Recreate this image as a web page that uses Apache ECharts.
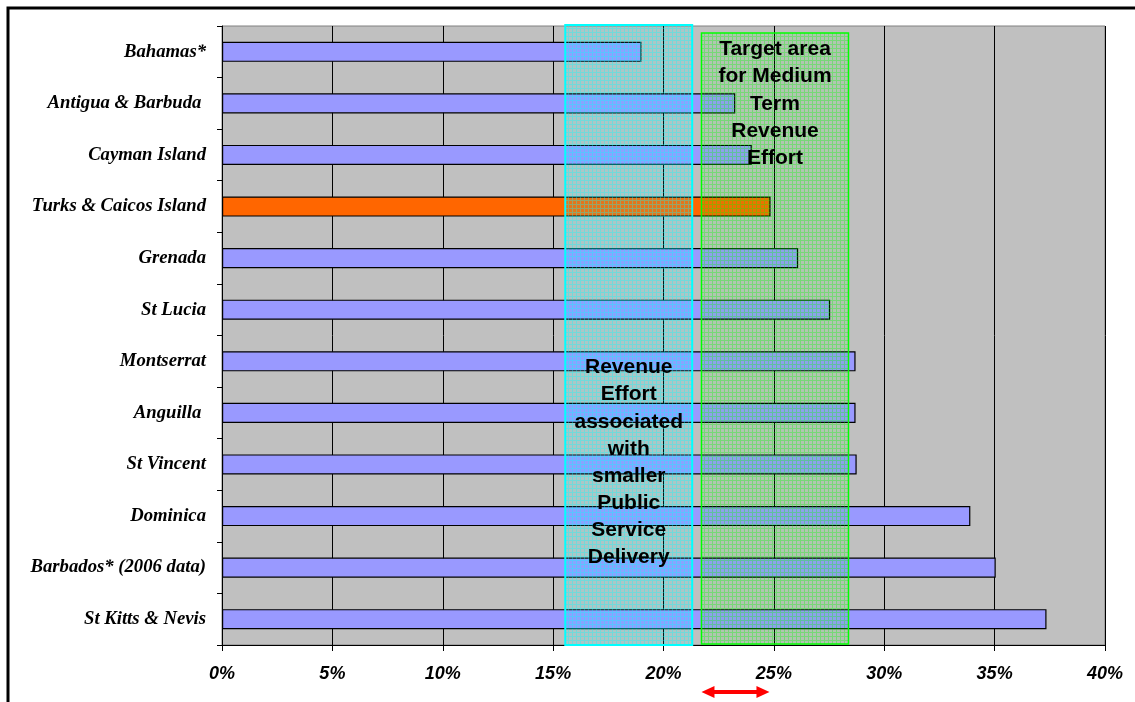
<!DOCTYPE html>
<html>
<head>
<meta charset="utf-8">
<script src="https://cdn.jsdelivr.net/npm/echarts@6/dist/echarts.min.js"></script>
<style>
  html, body { margin: 0; padding: 0; background: #ffffff; }
  #chart { width: 1135px; height: 702px; }
</style>
</head>
<body>
<div id="chart"></div>
<script>
// Revenue effort (% of GDP) by country
const countries = [
  'Bahamas*', 'Antigua & Barbuda ', 'Cayman Island', 'Turks & Caicos Island',
  'Grenada', 'St Lucia', 'Montserrat', 'Anguilla ', 'St Vincent',
  'Dominica', 'Barbados* (2006 data)', 'St Kitts & Nevis'
];
const revenueShare = [19.0, 23.25, 24.0, 24.85, 26.1, 27.55, 28.7, 28.7, 28.75, 33.9, 35.05, 37.35];
const highlighted = 'Turks & Caicos Island';

// Shaded bands (percent of GDP)
const smallerServiceBand = [15.55, 21.3];
const targetBand = [21.72, 28.38];
// Gap marked with the red double arrow
const gapRange = [21.72, 24.8];

const xTicks = { min: 0, max: 40, interval: 5 };

const bandTextLeft = 'Revenue\nEffort\nassociated\nwith\nsmaller\nPublic\nService\nDelivery';
const bandTextRight = 'Target area\nfor Medium\nTerm\nRevenue\nEffort';

function gridPattern(fill, line) {
  const c = document.createElement('canvas');
  c.width = 4; c.height = 4;
  const ctx = c.getContext('2d');
  ctx.fillStyle = fill;
  ctx.fillRect(0, 0, 4, 4);
  ctx.fillStyle = line;
  ctx.fillRect(0, 0, 4, 1);
  ctx.fillRect(0, 1, 1, 3);
  return c;
}

const chart = echarts.init(document.getElementById('chart'), null, { renderer: 'canvas' });

const barData = revenueShare.map((v, i) => ({
  value: v,
  itemStyle: { color: countries[i] === highlighted ? '#FF6600' : '#9999FF' }
}));

chart.setOption({
  animation: false,
  backgroundColor: '#ffffff',
  grid: {
    left: 222, right: 30, top: 26, bottom: 57,
    show: true, backgroundColor: '#C0C0C0', borderColor: '#808080', borderWidth: 1
  },
  xAxis: {
    type: 'value',
    min: xTicks.min, max: xTicks.max, interval: xTicks.interval,
    axisLine: { show: true, lineStyle: { color: '#000', width: 1 } },
    axisTick: { show: true, length: 6, lineStyle: { color: '#000' } },
    splitLine: { show: true, lineStyle: { color: '#000', width: 1 } },
    axisLabel: {
      formatter: v => v + '%',
      margin: 20,
      fontFamily: 'Liberation Sans', fontWeight: 'bold', fontStyle: 'italic',
      fontSize: 18, color: '#000'
    }
  },
  yAxis: {
    type: 'category',
    data: countries,
    inverse: true,
    axisLine: { show: true, lineStyle: { color: '#000', width: 1 } },
    axisTick: { show: true, length: 5, lineStyle: { color: '#000' } },
    axisLabel: {
      margin: 16,
      fontFamily: 'Liberation Serif', fontWeight: 'bold', fontStyle: 'italic',
      fontSize: 18.7, color: '#000'
    }
  },
  series: [
    {
      type: 'bar',
      data: barData,
      barWidth: '39%',
      itemStyle: { borderColor: '#000', borderWidth: 1.2 }
    }
  ]
});

// Overlays placed from data values along the x axis
const px = v => chart.convertToPixel({ xAxisIndex: 0 }, v);
const textStyle = {
  fontFamily: 'Liberation Sans', fontWeight: 'bold', fontSize: 21,
  lineHeight: 27.1, fill: '#000', align: 'center', verticalAlign: 'top'
};
const cx0 = px(smallerServiceBand[0]), cx1 = px(smallerServiceBand[1]);
const gx0 = px(targetBand[0]), gx1 = px(targetBand[1]);
const ax0 = px(gapRange[0]), ax1 = px(gapRange[1]);
const ay = 692, head = 13, half = 6, thick = 2;

chart.setOption({
  graphic: [
    {
      type: 'rect', silent: true, z: 100,
      shape: { x: 8, y: 8, width: 1200, height: 800 },
      style: { fill: 'none', stroke: '#000', lineWidth: 3 }
    },
    {
      type: 'rect', silent: true, z: 40,
      shape: { x: cx0, y: 25, width: cx1 - cx0, height: 620 },
      style: {
        fill: { image: gridPattern('rgba(0,255,255,0.1)', 'rgba(0,255,255,0.35)'), repeat: 'repeat' },
        stroke: '#00FFFF', lineWidth: 2
      }
    },
    {
      type: 'rect', silent: true, z: 40,
      shape: { x: gx0, y: 33, width: gx1 - gx0, height: 611 },
      style: {
        fill: { image: gridPattern('rgba(0,255,0,0.08)', 'rgba(0,255,0,0.32)'), repeat: 'repeat' },
        stroke: '#00FF00', lineWidth: 1.5
      }
    },
    {
      type: 'text', z: 50, silent: true,
      x: (gx0 + gx1) / 2, y: 36,
      style: Object.assign({ text: bandTextRight }, textStyle)
    },
    {
      type: 'text', z: 50, silent: true,
      x: (cx0 + cx1) / 2, y: 354,
      style: Object.assign({ text: bandTextLeft }, textStyle)
    },
    {
      type: 'polygon', z: 50, silent: true,
      shape: { points: [
        [ax0, ay], [ax0 + head, ay - half], [ax0 + head, ay - thick],
        [ax1 - head, ay - thick], [ax1 - head, ay - half], [ax1, ay],
        [ax1 - head, ay + half], [ax1 - head, ay + thick],
        [ax0 + head, ay + thick], [ax0 + head, ay + half]
      ] },
      style: { fill: '#FF0000' }
    }
  ]
});
</script>
</body>
</html>
